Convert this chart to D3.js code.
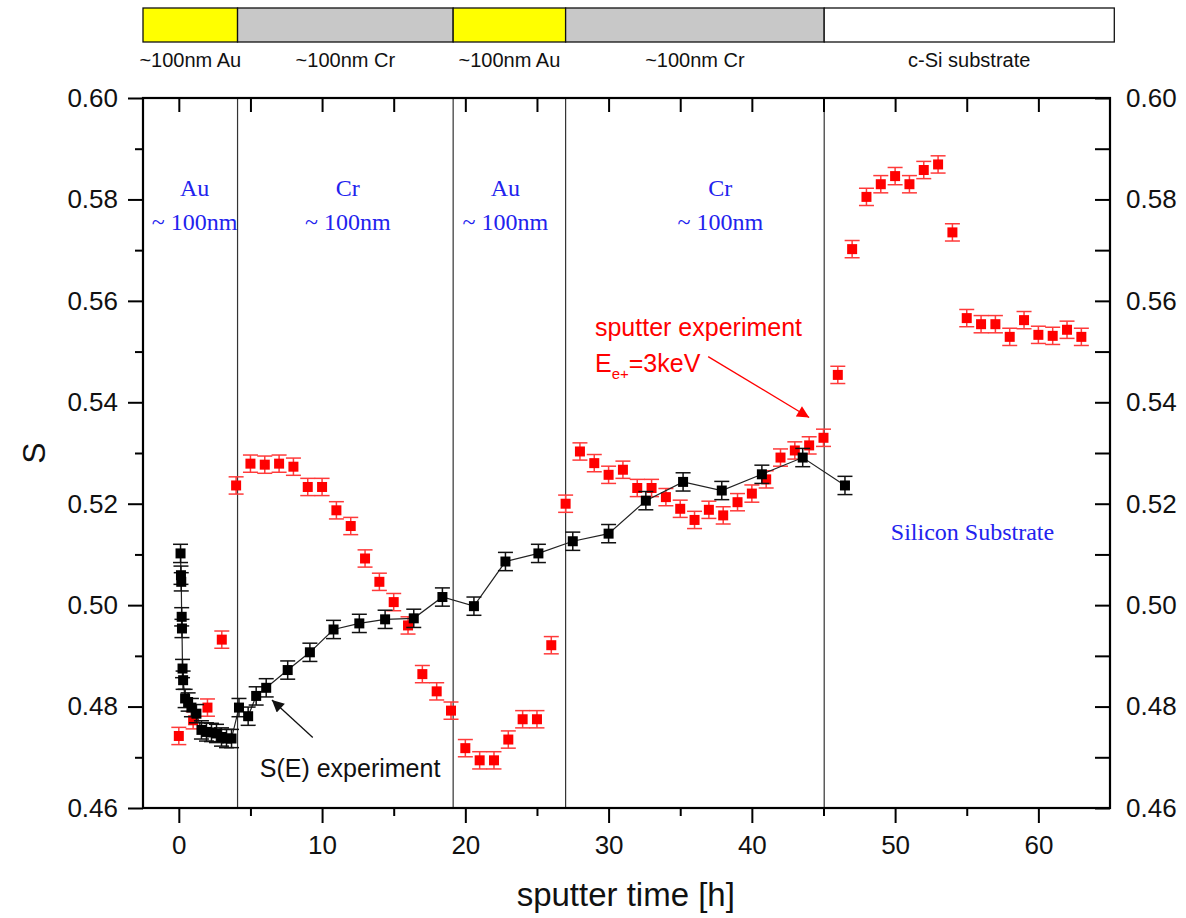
<!DOCTYPE html>
<html>
<head>
<meta charset="utf-8">
<script src="https://cdn.jsdelivr.net/npm/d3@7"></script>
<style>
  body { margin: 0; background: #fff; }
  svg text { font-family: "Liberation Sans", Arial, sans-serif; }
  .serif { font-family: "Liberation Serif", "Times New Roman", serif !important; }
</style>
</head>
<body>
<svg id="chart" width="1186" height="918"></svg>
<script>
// S(E) experiment (black)
var blackTime = [0.12, 0.15, 0.17, 0.2, 0.22, 0.26, 0.3, 0.44, 0.65, 0.88, 1.23, 1.58, 1.93, 2.28, 2.63, 2.98, 3.33, 3.68,
  4.2, 4.84, 5.4, 6.1, 7.6, 9.15, 10.8, 12.6, 14.4, 16.4, 18.4, 20.6, 22.8, 25.1, 27.5, 30.0, 32.6, 35.2, 37.9, 40.7, 43.55, 46.5];
var blackS = [0.5102, 0.5059, 0.5046, 0.4977, 0.4954, 0.4875, 0.4852, 0.4816, 0.4809, 0.4798, 0.4786, 0.4754, 0.4750, 0.4749, 0.4747, 0.4740, 0.4737, 0.4737,
  0.4798, 0.4781, 0.4821, 0.4837, 0.4872, 0.4907, 0.4952, 0.4964, 0.4972, 0.4974, 0.5016, 0.4998, 0.5086, 0.5102, 0.5126, 0.5141, 0.5206, 0.5243, 0.5226, 0.5258, 0.5291, 0.5236];
var blackErr = [0.0018, 0.0018, 0.0018, 0.0018, 0.0018, 0.0018, 0.0018, 0.0018, 0.0018, 0.0018, 0.0018, 0.0018, 0.0018, 0.0018, 0.0018, 0.0018, 0.0018, 0.0018,
  0.0018, 0.0018, 0.0018, 0.0018, 0.0018, 0.0018, 0.0018, 0.0018, 0.0018, 0.0018, 0.0018, 0.0018, 0.0018, 0.0018, 0.0018, 0.0018, 0.0018, 0.0018, 0.0018, 0.0018, 0.0018, 0.0018];

// sputter experiment, E = 3keV (red)
var redTime = [0, 1, 2, 3, 4, 5, 6, 7, 8, 9, 10, 11, 12, 13, 14, 15, 16, 17, 18, 19, 20, 21, 22, 23, 24, 25, 26, 27, 28, 29, 30, 31,
  32, 33, 34, 35, 36, 37, 38, 39, 40, 41, 42, 43, 44, 45, 46, 47, 48, 49, 50, 51, 52, 53, 54, 55, 56, 57, 58, 59, 60, 61, 62, 63];
var redS = [0.4742, 0.4773, 0.4798, 0.4932, 0.5236, 0.5279, 0.5277, 0.5279, 0.5273, 0.5233, 0.5233, 0.5187, 0.5156, 0.5092, 0.5046, 0.5006,
  0.4960, 0.4864, 0.4830, 0.4792, 0.4718, 0.4694, 0.4694, 0.4735, 0.4775, 0.4775, 0.4921, 0.5200, 0.5303, 0.5280, 0.5257, 0.5267,
  0.5231, 0.5231, 0.5213, 0.5190, 0.5168, 0.5188, 0.5177, 0.5203, 0.5220, 0.5248, 0.5291, 0.5305, 0.5315, 0.5330, 0.5454, 0.5702,
  0.5805, 0.5830, 0.5846, 0.5830, 0.5858, 0.5869, 0.5735, 0.5566, 0.5554, 0.5554, 0.5529, 0.5562, 0.5533, 0.5531, 0.5543, 0.5529];
var redErr = [0.0017, 0.0017, 0.0017, 0.0017, 0.0017, 0.0017, 0.0017, 0.0017, 0.0017, 0.0017, 0.0017, 0.0017, 0.0017, 0.0017, 0.0017, 0.0017,
  0.0017, 0.0017, 0.0017, 0.0017, 0.0017, 0.0017, 0.0017, 0.0017, 0.0017, 0.0017, 0.0017, 0.0017, 0.0017, 0.0017, 0.0017, 0.0017,
  0.0017, 0.0017, 0.0017, 0.0017, 0.0017, 0.0017, 0.0017, 0.0017, 0.0017, 0.0017, 0.0017, 0.0017, 0.0017, 0.0017, 0.0017, 0.0017,
  0.0017, 0.0017, 0.0017, 0.0017, 0.0017, 0.0017, 0.0017, 0.0017, 0.0017, 0.0017, 0.0017, 0.0017, 0.0017, 0.0017, 0.0017, 0.0017];

// layer structure (bar on top + vertical separators)
var layerEdges = [-2.5, 4.1, 19.15, 27.0, 45.05, 65.3];
var layerNames = ['~100nm Au', '~100nm Cr', '~100nm Au', '~100nm Cr', 'c-Si substrate'];
var layerColors = ['#ffff00', '#c8c8c8', '#ffff00', '#c8c8c8', '#ffffff'];
var separators = [4.1, 19.15, 27.0, 45.05];

var xTicks = [0, 10, 20, 30, 40, 50, 60];
var yTicks = [0.46, 0.48, 0.50, 0.52, 0.54, 0.56, 0.58, 0.60];

var margin = {top: 98, right: 76, bottom: 110, left: 143},
    width = 1186 - margin.left - margin.right,
    height = 918 - margin.top - margin.bottom;

var svg = d3.select('#chart');
var x = d3.scaleLinear().domain([-2.5, 65]).range([margin.left, margin.left + width]);
var y = d3.scaleLinear().domain([0.46, 0.60]).range([margin.top + height, margin.top]);

// top layer bar
var bar = svg.append('g');
bar.selectAll('rect')
  .data(layerNames)
  .enter().append('rect')
  .attr('x', function(d, i) { return x(layerEdges[i]); })
  .attr('y', 8)
  .attr('width', function(d, i) { return x(layerEdges[i + 1]) - x(layerEdges[i]); })
  .attr('height', 34)
  .attr('fill', function(d, i) { return layerColors[i]; })
  .attr('stroke', '#111')
  .attr('stroke-width', 1.3);
bar.selectAll('text')
  .data(layerNames)
  .enter().append('text')
  .attr('x', function(d, i) { return (x(layerEdges[i]) + x(layerEdges[i + 1])) / 2; })
  .attr('y', 67)
  .attr('text-anchor', 'middle')
  .attr('font-size', 20)
  .attr('fill', '#111')
  .text(function(d) { return d; });

// separators
svg.append('g').selectAll('line')
  .data(separators)
  .enter().append('line')
  .attr('x1', function(d) { return x(d); })
  .attr('x2', function(d) { return x(d); })
  .attr('y1', y(0.60))
  .attr('y2', y(0.46))
  .attr('stroke', '#333')
  .attr('stroke-width', 1.2);

// axes
function styleAxis(g) {
  g.select('.domain').remove();
  g.selectAll('.tick line').attr('stroke', '#000').attr('stroke-width', 2);
  g.selectAll('.tick text').attr('fill', '#111');
}
var minorX = d3.range(-0, 65, 5).filter(function(v) { return v % 10 !== 0; });
var minorY = [0.47, 0.49, 0.51, 0.53, 0.55, 0.57, 0.59];

svg.append('g')
  .attr('transform', 'translate(0,' + y(0.46) + ')')
  .call(d3.axisBottom(x).tickValues(xTicks).tickSize(15).tickPadding(8).tickFormat(d3.format('d')))
  .call(styleAxis)
  .selectAll('.tick text').attr('font-size', 26).attr('dy', '0.9em');
svg.append('g')
  .attr('transform', 'translate(0,' + y(0.46) + ')')
  .call(d3.axisBottom(x).tickValues(minorX).tickSize(8).tickFormat(''))
  .call(styleAxis);
svg.append('g')
  .attr('transform', 'translate(0,' + y(0.60) + ')')
  .call(d3.axisBottom(x).tickValues(xTicks.concat(minorX)).tickSize(14).tickFormat(''))
  .call(styleAxis);

svg.append('g')
  .attr('transform', 'translate(' + x(-2.5) + ',0)')
  .call(d3.axisLeft(y).tickValues(yTicks).tickSize(15).tickPadding(10).tickFormat(d3.format('.2f')))
  .call(styleAxis)
  .selectAll('.tick text').attr('font-size', 26);
svg.append('g')
  .attr('transform', 'translate(' + x(-2.5) + ',0)')
  .call(d3.axisLeft(y).tickValues(minorY).tickSize(8).tickFormat(''))
  .call(styleAxis);
svg.append('g')
  .attr('transform', 'translate(' + x(65) + ',0)')
  .call(d3.axisRight(y).tickValues(yTicks).tickSize(0).tickPadding(16).tickFormat(d3.format('.2f')))
  .call(styleAxis)
  .selectAll('.tick text').attr('font-size', 26);
svg.append('g')
  .attr('transform', 'translate(' + x(65) + ',0)')
  .call(d3.axisLeft(y).tickValues(yTicks.concat(minorY)).tickSize(15).tickFormat(''))
  .call(styleAxis);

// frame
svg.append('rect')
  .attr('x', x(-2.5))
  .attr('y', y(0.60))
  .attr('width', x(65) - x(-2.5))
  .attr('height', y(0.46) - y(0.60))
  .attr('fill', 'none')
  .attr('stroke', '#000')
  .attr('stroke-width', 2.2);

// axis titles
svg.append('text')
  .attr('transform', 'translate(45,' + y(0.53) + ') rotate(-90)')
  .attr('text-anchor', 'middle')
  .attr('font-size', 32)
  .attr('fill', '#111')
  .text('S');
svg.append('text')
  .attr('x', x(31.2))
  .attr('y', 906)
  .attr('text-anchor', 'middle')
  .attr('font-size', 33)
  .attr('fill', '#111')
  .text('sputter time [h]');

// series drawing
function drawSeries(xs, ys, es, markColor, barColor, withLine) {
  var pts = xs.map(function(t, i) { return {t: t, s: ys[i], e: es[i]}; });
  var g = svg.append('g');
  if (withLine) {
    g.append('path')
      .datum(pts)
      .attr('fill', 'none')
      .attr('stroke', '#222')
      .attr('stroke-width', 1.2)
      .attr('d', d3.line().x(function(d) { return x(d.t); }).y(function(d) { return y(d.s); }));
  }
  var eb = g.selectAll('g.eb').data(pts).enter().append('g').attr('class', 'eb')
    .attr('stroke', barColor).attr('stroke-width', 1.5);
  eb.append('line')
    .attr('x1', function(d) { return x(d.t); }).attr('x2', function(d) { return x(d.t); })
    .attr('y1', function(d) { return y(d.s - d.e); }).attr('y2', function(d) { return y(d.s + d.e); });
  eb.append('line')
    .attr('x1', function(d) { return x(d.t) - 7.5; }).attr('x2', function(d) { return x(d.t) + 7.5; })
    .attr('y1', function(d) { return y(d.s + d.e); }).attr('y2', function(d) { return y(d.s + d.e); });
  eb.append('line')
    .attr('x1', function(d) { return x(d.t) - 7.5; }).attr('x2', function(d) { return x(d.t) + 7.5; })
    .attr('y1', function(d) { return y(d.s - d.e); }).attr('y2', function(d) { return y(d.s - d.e); });
  g.selectAll('rect').data(pts).enter().append('rect')
    .attr('x', function(d) { return x(d.t) - 5; })
    .attr('y', function(d) { return y(d.s) - 5; })
    .attr('width', 10).attr('height', 10)
    .attr('fill', markColor);
}
drawSeries(redTime, redS, redErr, '#ff0000', '#ff3a3a', false);
drawSeries(blackTime, blackS, blackErr, '#000000', '#111111', true);

// layer labels (blue)
var blueLabels = [
  {t: 1.1, s: 0.5823, txt: 'Au'}, {t: 1.1, s: 0.5756, txt: '~ 100nm'},
  {t: 11.8, s: 0.5823, txt: 'Cr'}, {t: 11.8, s: 0.5756, txt: '~ 100nm'},
  {t: 22.8, s: 0.5823, txt: 'Au'}, {t: 22.8, s: 0.5756, txt: '~ 100nm'},
  {t: 37.8, s: 0.5823, txt: 'Cr'}, {t: 37.8, s: 0.5756, txt: '~ 100nm'},
  {t: 55.4, s: 0.5145, txt: 'Silicon Substrate'}
];
svg.append('g').selectAll('text')
  .data(blueLabels)
  .enter().append('text')
  .attr('class', 'serif')
  .attr('x', function(d) { return x(d.t); })
  .attr('y', function(d) { return y(d.s); })
  .attr('dy', '0.35em')
  .attr('text-anchor', 'middle')
  .attr('font-size', 24)
  .attr('fill', '#2222ee')
  .text(function(d) { return d.txt; });

// annotations
var defs = svg.append('defs');
defs.append('marker').attr('id', 'ahRed').attr('viewBox', '0 0 10 10').attr('refX', 10).attr('refY', 5)
  .attr('markerWidth', 16).attr('markerHeight', 12).attr('markerUnits', 'userSpaceOnUse').attr('orient', 'auto')
  .append('path').attr('d', 'M0,0 L10,5 L0,10 z').attr('fill', '#ff0000');
defs.append('marker').attr('id', 'ahBlack').attr('viewBox', '0 0 10 10').attr('refX', 10).attr('refY', 5)
  .attr('markerWidth', 16).attr('markerHeight', 12).attr('markerUnits', 'userSpaceOnUse').attr('orient', 'auto')
  .append('path').attr('d', 'M0,0 L10,5 L0,10 z').attr('fill', '#111');

svg.append('text')
  .attr('x', x(29.05)).attr('y', y(0.5531))
  .attr('font-size', 25).attr('fill', '#ff0000')
  .text('sputter experiment');
var eText = svg.append('text')
  .attr('x', x(29.05)).attr('y', y(0.5460))
  .attr('font-size', 25).attr('fill', '#ff0000');
eText.append('tspan').text('E');
eText.append('tspan').attr('font-size', 15).attr('dy', 7).text('e+');
eText.append('tspan').attr('dy', -7).text('=3keV');
svg.append('line')
  .attr('x1', x(36.95)).attr('y1', y(0.5490))
  .attr('x2', x(44.0)).attr('y2', y(0.5370))
  .attr('stroke', '#ff0000').attr('stroke-width', 1.3)
  .attr('marker-end', 'url(#ahRed)');

svg.append('text')
  .attr('x', x(5.65)).attr('y', y(0.4662))
  .attr('font-size', 25).attr('fill', '#111')
  .text('S(E) experiment');
svg.append('line')
  .attr('x1', x(9.35)).attr('y1', y(0.4739))
  .attr('x2', x(6.5)).attr('y2', y(0.4813))
  .attr('stroke', '#111').attr('stroke-width', 1.3)
  .attr('marker-end', 'url(#ahBlack)');
</script>
</body>
</html>
